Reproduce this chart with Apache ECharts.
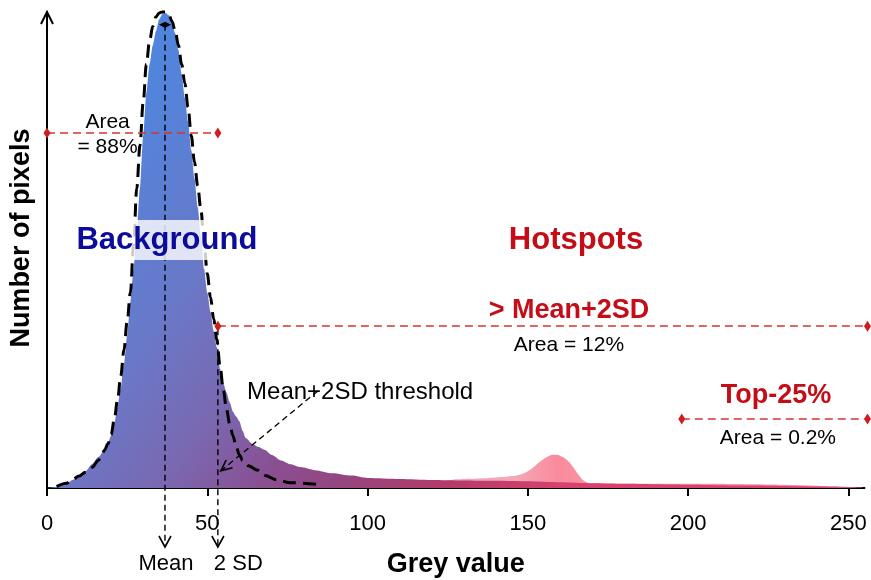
<!DOCTYPE html>
<html>
<head>
<meta charset="utf-8">
<script src="https://cdn.jsdelivr.net/npm/echarts@6/dist/echarts.min.js"></script>
<style>
html, body { margin: 0; padding: 0; background: #fff; }
#chart { width: 871px; height: 580px; }
</style>
</head>
<body>
<div id="chart"></div>
<script>
// Grey-level histogram of all pixels (relative pixel count, peak = 100)
const greyLevels = [0,3,6,8,10,12,14,16,18,19,20,21,22,23,24,25,26,27,28,29,30,31,32,33,34,35,36,37,38,39,40,41,42,43,44,45,46,47,48,49,50,51,52,53,54,55,56,57,58,59,60,61,62,64,66,68,70,73,76,79,84,89,95,100,110,120,130,140,150,160,170,180,200,220,240,255];
const pixelCounts = [0,0.2,0.9,1.7,2.4,3.5,5,6.5,8,9.5,11,13.5,17,21,26,32,39,46,54,63,74,83,89,93,96,98.5,99.6,99.8,99.3,97.5,95.5,92,87,82,77,71,65,59,53,46,41,37,33,29.5,25,22,20,18,16,15,14,12,10.5,9.3,8.6,8,7,5.8,5,4.4,3.7,3.1,2.6,2.1,1.9,1.7,1.6,1.5,1.4,1.2,1.0,0.9,0.7,0.5,0.3,0.1];

// Gaussian fit of the background peak
const fitLevels = [3,6,8,10,12,14,16,17,18,19,20,21,22,23,24,25,26,27,28,29,30,31,32,33,34,35,36,37,38,39,40,41,42,43,44,45,46,47,48,49,50,51,52,53,54,55,56,57,58,59,60,61,63,65.5,68,71.7,76,84];
const fitCounts = [0.3,1,1.8,2.5,3.3,4.3,5.8,6.8,8,9.3,11.2,14.5,18.5,23.5,29,35,41,51,63,72,81,89,94,97,99,99.8,100,100,99.5,98,96,93,89,85,80,74,68.5,63.5,58.5,51.5,45,40,35.5,31,25.5,20.6,16.5,13.5,11,8.7,7,5.8,4.6,3.8,2.6,1.7,1.1,0.8];

// Hotspot pixels (bright population)
const hotLevels = [118,125,130,135,140,145,148,150,152,154,156,158,159,160,162,164,166,168,170,180,200,220,235,245,255];
const hotCounts = [0,1.6,1.9,2.0,2.2,2.5,2.9,3.5,4.5,5.6,6.5,7.0,7.0,6.8,6.0,4.5,2.6,1.3,1.0,0.9,0.9,0.8,0.6,0.35,0.1];

// Axis ticks and thresholds
const xTicks = [0, 50, 100, 150, 200, 250];
const maxGrey = 255;
const meanGrey = 36.8;
const threshGrey = 53.3;
const top25Grey = 198;
const rangeLevels = [74.6, 34.0, 14.5];   // heights of the three range brackets

const FONT = '"Liberation Sans", Arial, Helvetica, sans-serif';
const RED = '#c40d16';
const RED_LINE = '#d23434';

const chart = echarts.init(document.getElementById('chart'), null, { renderer: 'canvas' });

const pairs = (xs, ys) => xs.map((x, i) => [x, ys[i]]);

const mainFill = new echarts.graphic.LinearGradient(0.07, 0, 0.715, 0.805, [
  { offset: 0, color: '#4c88e2' },
  { offset: 0.15, color: '#5483da' },
  { offset: 0.35, color: '#6a78c8' },
  { offset: 0.5, color: '#7a68b0' },
  { offset: 0.62, color: '#8a4f92' },
  { offset: 0.72, color: '#95457f' },
  { offset: 0.85, color: '#b43a6a' },
  { offset: 1, color: '#d8426e' }
]);
const hotFill = new echarts.graphic.LinearGradient(0, 0, 1, 0, [
  { offset: 0, color: '#e9a6bb' },
  { offset: 0.2, color: '#f3a9b8' },
  { offset: 0.3, color: '#f98b9c' },
  { offset: 0.4, color: '#f497a8' },
  { offset: 1, color: '#ef8fa6' }
]);

const ranges = [
  [0, threshGrey, rangeLevels[0]],
  [threshGrey, maxGrey, rangeLevels[1]],
  [top25Grey, maxGrey, rangeLevels[2]]
];

chart.setOption({
  animation: false,
  grid: { left: 47, right: 6.5, top: 12, bottom: 92, outerBoundsMode: 'none' },
  xAxis: {
    type: 'value', min: 0, max: maxGrey, interval: 50,
    axisLine: { lineStyle: { color: '#000', width: 2 } },
    axisTick: { show: true, inside: false, length: 8, lineStyle: { color: '#000', width: 2 }, customValues: xTicks },
    axisLabel: { color: '#000', fontSize: 22, fontFamily: FONT, margin: 25, customValues: xTicks },
    splitLine: { show: false }
  },
  yAxis: {
    type: 'value', min: 0, max: 100,
    axisLine: { show: true, lineStyle: { color: '#000', width: 2 } },
    axisTick: { show: false }, axisLabel: { show: false }, splitLine: { show: false }
  },
  series: [
    {
      name: 'Hotspots', type: 'line', z: 1, data: pairs(hotLevels, hotCounts),
      smooth: 0.5, showSymbol: false, silent: true,
      lineStyle: { width: 0 }, areaStyle: { color: hotFill, opacity: 1 }
    },
    {
      name: 'All pixels', type: 'line', z: 2, data: pairs(greyLevels, pixelCounts),
      smooth: 0.25, smoothMonotone: 'x', showSymbol: false, silent: true,
      lineStyle: { width: 0 }, areaStyle: { color: mainFill, opacity: 1 },
      markLine: {
        silent: true, symbol: 'none',
        label: { show: false },
        lineStyle: { color: RED_LINE, width: 1.6, type: [8, 5] },
        data: ranges.map(r => [{ coord: [r[0], r[2]] }, { coord: [r[1], r[2]] }])
      }
    },
    {
      name: 'Gaussian fit', type: 'line', z: 3, data: pairs(fitLevels, fitCounts),
      smooth: 0.35, smoothMonotone: 'x', showSymbol: false, silent: true, clip: false,
      lineStyle: { color: '#000', width: 3, type: [13, 7] }
    }
  ]
});

// Annotations placed in data space
const P = (g, v) => chart.convertToPixel({ gridIndex: 0 }, [g, v]);
const axisY = P(0, 0)[1];
const Z = 100;

function chevron(tip, dir, len, half, width) {
  const [dx, dy] = dir;
  const n = Math.hypot(dx, dy);
  const ux = dx / n, uy = dy / n;
  const bx = tip[0] - ux * len, by = tip[1] - uy * len;
  return {
    type: 'polyline', z: Z, silent: true,
    shape: { points: [[bx - uy * half, by + ux * half], tip, [bx + uy * half, by - ux * half]] },
    style: { stroke: '#000', lineWidth: width, fill: null }
  };
}
function dashed(p0, p1, width, dash) {
  return {
    type: 'line', z: Z, silent: true,
    shape: { x1: p0[0], y1: p0[1], x2: p1[0], y2: p1[1] },
    style: { stroke: '#000', lineWidth: width, lineDash: dash }
  };
}
function diamond(p, w, h, color) {
  return {
    type: 'polygon', z: Z, silent: true,
    shape: { points: [[p[0] - w / 2, p[1]], [p[0], p[1] - h / 2], [p[0] + w / 2, p[1]], [p[0], p[1] + h / 2]] },
    style: { fill: color }
  };
}
function label(text, p, opt) {
  return {
    type: 'text', z: Z + 1, silent: true, x: p[0], y: p[1], rotation: opt.rotation || 0,
    style: Object.assign({
      text: text, x: 0, y: 0, align: 'center', verticalAlign: 'middle',
      fill: '#000', font: (opt.weight || 'normal') + ' ' + opt.size + 'px ' + FONT
    }, opt.extra || {})
  };
}

const yTip = P(0, 100);
const xMean = P(meanGrey, 0)[0];
const xThr = P(threshGrey, 0)[0];
const arrowBottom = axisY + 59;
const meanTop = P(meanGrey, 97.3)[1];
const thrTop = P(threshGrey, rangeLevels[1])[1] + 3;
const thrStart = P(84.5, 20.4);
const thrEnd = [xThr + 3, P(threshGrey, 3.6)[1]];

const graphics = [
  // arrow head of the count axis
  { type: 'polyline', z: Z, silent: true,
    shape: { points: [[yTip[0] - 6, yTip[1] + 12], [yTip[0], yTip[1]], [yTip[0] + 6, yTip[1] + 12]] },
    style: { stroke: '#000', lineWidth: 2, fill: null } },
  // mean marker
  dashed([xMean, meanTop], [xMean, arrowBottom], 1.4, [6, 4]),
  chevron([xMean, arrowBottom], [0, 1], 11, 6, 1.6),
  { type: 'polygon', z: Z, silent: true,
    shape: { points: [[xMean - 6, meanTop], [xMean, meanTop - 3], [xMean + 6, meanTop], [xMean, meanTop + 3]] },
    style: { fill: '#000' } },
  // mean + 2SD marker
  dashed([xThr, thrTop], [xThr, arrowBottom], 1.4, [6, 4]),
  chevron([xThr, arrowBottom], [0, 1], 11, 6, 1.6),
  // threshold callout arrow
  dashed(thrStart, thrEnd, 1.3, [6, 4]),
  chevron(thrEnd, [thrEnd[0] - thrStart[0], thrEnd[1] - thrStart[1]], 11, 5, 1.6),

  // axis titles
  label('Number of pixels', [22, P(0, 52.5)[1]], { size: 27, weight: 'bold', rotation: Math.PI / 2 }),
  label('Grey value', [P(127.5, 0)[0], axisY + 77], { size: 27, weight: 'bold' }),
  label('Mean', [xMean + 1, axisY + 76], { size: 22 }),
  label('2 SD', [xThr - 4, axisY + 76], { size: 22, extra: { align: 'left' } }),

  // region labels
  label('Area\n= 88%', P(18.9, 74.3), { size: 21, extra: { lineHeight: 25 } }),
  label('Background', P(37.4, 52.1), { size: 31, weight: 'bold',
    extra: { fill: '#0b0b9c', backgroundColor: 'rgba(255,255,255,0.8)', padding: [4, 2, 4, 2], lineHeight: 32 } }),
  label('Hotspots', P(165, 52.1), { size: 31, weight: 'bold', extra: { fill: RED } }),
  label('> Mean+2SD', P(162.8, 37.2), { size: 27, weight: 'bold', extra: { fill: RED } }),
  label('Area = 12%', P(162.8, 30.0), { size: 21 }),
  label('Top-25%', P(227.4, 19.5), { size: 27, weight: 'bold', extra: { fill: RED } }),
  label('Area = 0.2%', P(228, 10.5), { size: 21 }),
  label('Mean+2SD threshold', P(62.4, 20.0), { size: 24, extra: { align: 'left' } })
];

// diamond caps at both ends of each range bracket
ranges.forEach(r => {
  graphics.push(diamond(P(r[0], r[2]), 7, 11, '#cc1f1f'));
  const end = P(r[1], r[2]);
  graphics.push(diamond([end[0] + (r[1] === maxGrey ? 3 : 0), end[1]], 7, 11, '#cc1f1f'));
});

chart.setOption({ graphic: { elements: graphics } });
</script>
</body>
</html>
